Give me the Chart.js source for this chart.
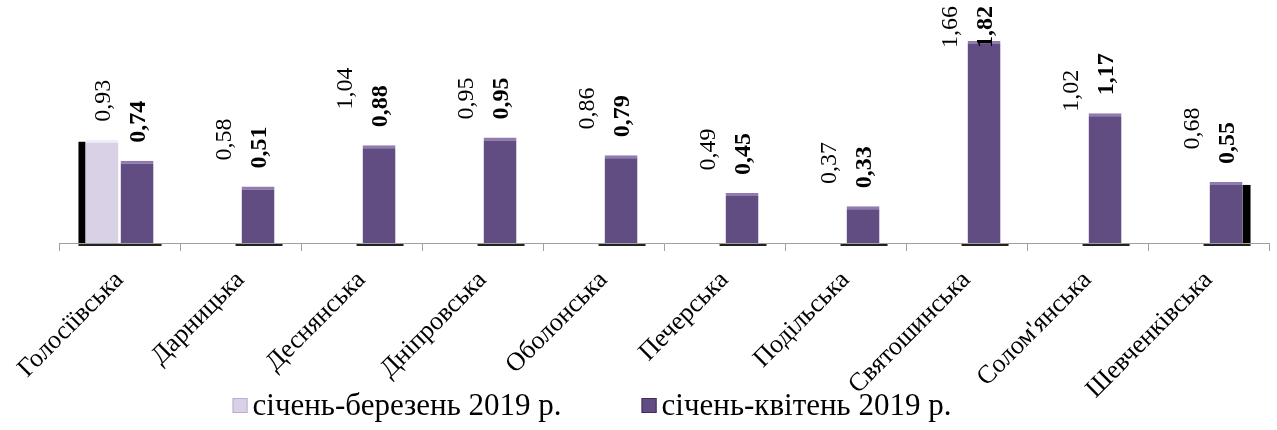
<!DOCTYPE html>
<html>
<head>
<meta charset="utf-8">
<script src="https://cdn.jsdelivr.net/npm/chart.js@4.4.1/dist/chart.umd.min.js"></script>
<style>
html, body { margin: 0; background: #fff; }
#wrap { width: 1277px; height: 430px; }
</style>
</head>
<body>
<div id="wrap"><canvas id="chart"></canvas></div>
<script>
const districts = ['Голосіївська', 'Дарницька', 'Деснянська', 'Дніпровська', 'Оболонська',
    'Печерська', 'Подільська', 'Святошинська', "Солом'янська", 'Шевченківська'];
const janMar = [0.93, 0.58, 1.04, 0.95, 0.86, 0.49, 0.37, 1.66, 1.02, 0.68];
const janApr = [0.74, 0.51, 0.88, 0.95, 0.79, 0.45, 0.33, 1.82, 1.17, 0.55];
const seriesNames = ['січень-березень 2019 р.', 'січень-квітень 2019 р.'];

const serif = '"Liberation Serif", "Times New Roman", serif';
const light = '#d9d2e7';
const purple = '#624d82';
const seriesColors = [light, purple];

// vertical value labels above each bar (bold for the second series)
const valueLabels = {
    id: 'valueLabels',
    afterDatasetsDraw(chart) {
        const ctx = chart.ctx;
        chart.data.datasets.forEach((ds, i) => {
            const meta = chart.getDatasetMeta(i);
            ctx.save();
            ctx.font = (i === 1 ? 'bold ' : '') + '24px ' + serif;
            ctx.fillStyle = '#000';
            ctx.textAlign = 'left';
            ctx.textBaseline = 'middle';
            meta.data.forEach((bar, j) => {
                const txt = ds.data[j].toFixed(2).replace('.', ',');
                const w = ctx.measureText(txt).width;
                const start = Math.max(bar.y - 18, w + 6);
                ctx.save();
                ctx.translate(bar.x + 2, start);
                ctx.rotate(-Math.PI / 2);
                ctx.fillText(txt, 0, 0);
                ctx.restore();
            });
            ctx.restore();
        });
    }
};

// dark 3d side faces on the outer bars, floor shadows along the axis
const sideFaces = {
    id: 'sideFaces',
    beforeDatasetsDraw(chart) {
        const ctx = chart.ctx;
        const first = chart.getDatasetMeta(0).data[0];
        const bars = chart.getDatasetMeta(1).data;
        const last = bars[bars.length - 1];
        ctx.save();
        ctx.fillStyle = '#000';
        ctx.fillRect(first.x - first.width / 2 - 7, first.y + 2, 7, first.base - first.y - 2);
        ctx.fillRect(last.x + last.width / 2, last.y + 3, 8, last.base - last.y - 3);
        ctx.fillStyle = '#222';
        ctx.fillRect(first.x - first.width / 2 - 7, first.base + 1, first.width + 9, 2);
        bars.forEach(b => ctx.fillRect(b.x - b.width / 2 - 6, b.base + 1, b.width + 14, 2));
        ctx.restore();
    }
};

// legend row under the axis labels, wide gap between the two items
const bottomLegend = {
    id: 'bottomLegend',
    afterDraw(chart) {
        const ctx = chart.ctx;
        const box = 15, gap = 5, spacing = 80, cy = 406, centre = 592;
        ctx.save();
        ctx.font = '31px ' + serif;
        ctx.textBaseline = 'middle';
        const widths = chart.data.datasets.map(ds => box + gap + ctx.measureText(ds.label).width);
        let x = centre - (widths[0] + spacing + widths[1]) / 2;
        chart.data.datasets.forEach((ds, i) => {
            ctx.fillStyle = seriesColors[i];
            ctx.fillRect(x, cy - 8, box, box);
            ctx.strokeStyle = i === 0 ? '#b9add0' : '#3f2f58';
            ctx.lineWidth = 1;
            ctx.strokeRect(x + 0.5, cy - 7.5, box - 1, box - 1);
            ctx.fillStyle = '#000';
            ctx.fillText(ds.label, x + box + gap, cy + 1);
            x += widths[i] + spacing;
        });
        ctx.restore();
    }
};

new Chart(document.getElementById('chart'), {
    type: 'bar',
    data: {
        labels: districts,
        datasets: [
            {
                label: seriesNames[0],
                data: janMar,
                backgroundColor: c => c.dataIndex > 0 ? 'rgba(0,0,0,0)' : light,
                borderColor: c => c.dataIndex > 0 ? 'rgba(0,0,0,0)' : '#f1edf7',
                borderWidth: { top: 3, left: 0, right: 0, bottom: 0 },
                borderSkipped: 'bottom',
                categoryPercentage: 0.58,
                barPercentage: 0.94,
            },
            {
                label: seriesNames[1],
                data: janApr,
                backgroundColor: purple,
                borderColor: '#8f7bb0',
                borderWidth: { top: 3, left: 0, right: 0, bottom: 0 },
                borderSkipped: 'bottom',
                categoryPercentage: 0.58,
                barPercentage: 0.94,
            },
        ],
    },
    options: {
        responsive: true,
        maintainAspectRatio: false,
        animation: false,
        layout: { padding: { left: 59, right: 8, top: 21, bottom: 0 } },
        plugins: {
            tooltip: { enabled: false },
            legend: { display: false },
        },
        scales: {
            x: {
                afterFit: s => { s.height = 187; },
                grid: { display: true, drawOnChartArea: false, drawTicks: true, tickLength: 8, color: '#a0a0a0' },
                border: { display: true, color: '#a0a0a0' },
                ticks: {
                    color: '#000',
                    font: { family: serif, size: 26 },
                    minRotation: 45,
                    maxRotation: 45,
                    autoSkip: false,
                    padding: 14,
                },
            },
            y: { display: false, min: 0, max: 2 },
        },
    },
    plugins: [valueLabels, sideFaces, bottomLegend],
});
</script>
</body>
</html>
